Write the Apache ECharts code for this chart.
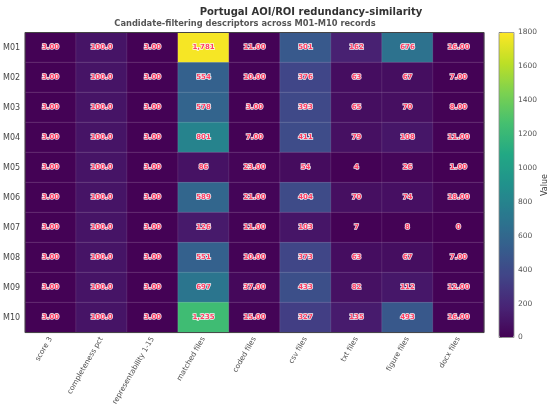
<!DOCTYPE html>
<html><head><meta charset="utf-8">
<script src="https://cdn.jsdelivr.net/npm/echarts@6/dist/echarts.min.js"></script>
<style>html,body{margin:0;padding:0;background:#fff}#c{width:550px;height:408px}</style>
</head><body><div id="c"></div>
<script>
const records = ['M01','M02','M03','M04','M05','M06','M07','M08','M09','M10'];
const descriptors = ['score 3','completeness pct','representability 1-15','matched files','coded files','csv files','txt files','figure files','docx files'];
const score3 = [3,3,3,3,3,3,3,3,3,3];
const completenessPct = [100,100,100,100,100,100,100,100,100,100];
const representability = [3,3,3,3,3,3,3,3,3,3];
const matchedFiles = [1781,554,578,801,86,589,126,551,697,1235];
const codedFiles = [11,10,3,7,23,21,11,10,37,15];
const csvFiles = [501,376,393,411,54,404,103,373,433,327];
const txtFiles = [162,63,65,79,4,70,7,63,82,135];
const figureFiles = [676,67,70,108,26,74,8,67,112,493];
const docxFiles = [16,7,8,11,1,18,0,7,12,16];
const colorbarTicks = [0,200,400,600,800,1000,1200,1400,1600,1800];

const columns = [score3,completenessPct,representability,matchedFiles,codedFiles,csvFiles,txtFiles,figureFiles,docxFiles];
const formats = ['f2','f1','f2','int','f2','int','int','int','f2'];
function fmt(v, f){
  if (v === 0) return '0';
  if (f === 'f2') return v.toFixed(2);
  if (f === 'f1') return v.toFixed(1);
  return v.toLocaleString('en-US');
}
const data = [];
columns.forEach((col, ci) => col.forEach((v, ri) => data.push({value:[ci, ri, v], label:{formatter: fmt(v, formats[ci])}})));

const viridis = ['#440154','#482475','#414487','#355f8d','#2a788e','#21918c','#22a884','#44bf70','#7ad151','#bddf26','#fde725'];
const FONT = 'DejaVu Sans';
const chart = echarts.init(document.getElementById('c'), null, {renderer:'canvas'});
chart.setOption({
  animation:false,
  textStyle:{fontFamily:FONT},
  title:[
    {text:'Portugal AOI/ROI redundancy-similarity', left:306, top:2, textAlign:'center',
     textStyle:{fontFamily:FONT, fontSize:10, fontWeight:'bold', color:'#333'}},
    {text:'Candidate-filtering descriptors across M01-M10 records', left:240, top:15, textAlign:'center',
     textStyle:{fontFamily:FONT, fontSize:8.3, fontWeight:'bold', color:'#555'}}
  ],
  grid:[
    {left:22, top:32.5, width:462, height:305, show:true, z:5, borderColor:'#444', borderWidth:1, backgroundColor:'transparent'},
    {left:499, top:32.5, width:15, height:305, show:true, z:5, borderColor:'#888', borderWidth:0.8, backgroundColor:'transparent'}
  ],
  xAxis:[
    {type:'category', gridIndex:0, data:descriptors, axisLine:{show:false}, axisTick:{show:false}, splitLine:{show:false},
     axisLabel:{rotate:60, fontSize:7.3, color:'#555', margin:5, interval:0}},
    {type:'value', gridIndex:1, show:false, min:0, max:1}
  ],
  yAxis:[
    {type:'category', gridIndex:0, data:records, inverse:true, axisLine:{show:false}, axisTick:{show:false},
     axisLabel:{fontSize:8, color:'#444', margin:5}},
    {type:'value', gridIndex:1, position:'right', min:0, max:1800, interval:200,
     axisLine:{show:false}, splitLine:{show:false},
     axisTick:{show:true, length:3, lineStyle:{color:'#666'}},
     axisLabel:{fontSize:7.5, color:'#555', margin:4, formatter:v=>String(v)},
     name:'Value', nameLocation:'middle', nameGap:27, nameRotate:90, nameTextStyle:{fontSize:8, color:'#444'}}
  ],
  visualMap:{type:'continuous', min:0, max:1800, seriesIndex:0, show:true, calculable:false,
    orient:'vertical', left:499, top:32.5, itemWidth:15, itemHeight:305, padding:0, text:null,
    hoverLink:false, inRange:{color:viridis}},
  series:[{
    type:'heatmap', xAxisIndex:0, yAxisIndex:0, data:data,
    itemStyle:{borderColor:'rgba(255,255,255,0.18)', borderWidth:0.6},
    label:{show:true, fontSize:7, fontWeight:'bold', color:'#ff3d63', textBorderColor:'rgba(255,255,255,0.9)', textBorderWidth:1.5},
    emphasis:{disabled:true}
  }]
});
</script></body></html>
